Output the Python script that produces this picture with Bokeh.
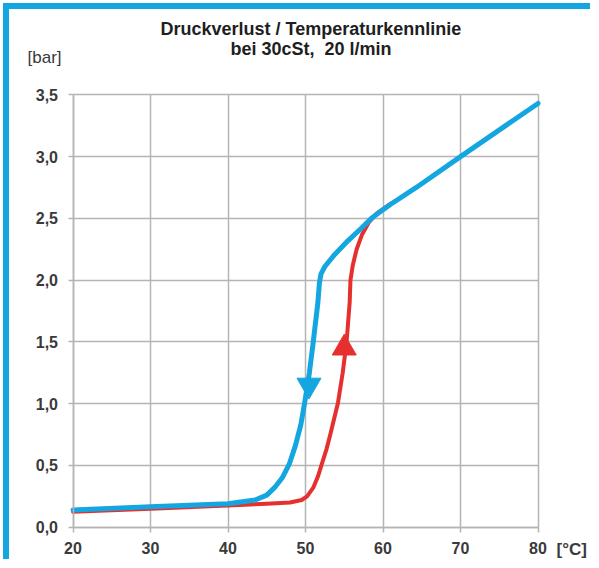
from bokeh.plotting import figure
from bokeh.models import Range1d, FixedTicker, Label
from bokeh.embed import file_html
from bokeh.resources import INLINE

# --- data -------------------------------------------------------------
# heating curve (red, arrow up)
temp_heat = [20, 30, 40, 45, 48, 49.5, 50.2, 51.0, 51.6, 52.1, 52.7, 53.2, 53.7,
             54.2, 54.8, 55.3, 55.7, 55.8, 56.1, 56.6, 57.3, 58.2, 59.2, 61.0]
dp_heat = [0.125, 0.15, 0.175, 0.19, 0.20, 0.22, 0.25, 0.32, 0.41, 0.51, 0.63, 0.75, 0.88,
           1.01, 1.25, 1.50, 1.82, 2.00, 2.12, 2.25, 2.37, 2.47, 2.54, 2.62]

# cooling curve (blue, arrow down)
temp_cool = [20, 30, 40, 43.5, 45, 46, 47, 47.9, 48.7, 49.4, 49.9, 50.5, 51.0, 51.6,
             51.8, 52.0, 52.5, 53.8, 55.5, 57.2, 58.5, 60.9, 64.3, 70, 80]
dp_cool = [0.14, 0.165, 0.19, 0.22, 0.26, 0.32, 0.40, 0.51, 0.66, 0.83, 1.01, 1.25, 1.50, 1.82,
           1.98, 2.05, 2.11, 2.21, 2.32, 2.42, 2.50, 2.61, 2.75, 3.00, 3.43]

# direction arrows (position on the curves)
arrow_heat_x = [55.0]
arrow_heat_y = [1.45]
arrow_cool_x = [50.45]
arrow_cool_y = [1.15]

x_ticks = [20, 30, 40, 50, 60, 70, 80]
x_tick_labels = ["20", "30", "40", "50", "60", "70", "80"]
y_ticks = [0.0, 0.5, 1.0, 1.5, 2.0, 2.5, 3.0, 3.5]
y_tick_labels = ["0,0", "0,5", "1,0", "1,5", "2,0", "2,5", "3,0", "3,5"]

title_line1 = "Druckverlust / Temperaturkennlinie"
title_line2 = "bei 30cSt,\u00a0 20 l/min"
y_unit = "[bar]"
x_unit = "[°C]"

BLUE = "#13a6e0"
RED = "#e6302d"
GRID = "#b4b4b4"
FONT = "Liberation Sans"
TXT = "#3a3a3a"

# --- figure -----------------------------------------------------------
# the frame covers the whole canvas; axes sit at x=20 / y=0 inside it
p = figure(width=587, height=556, output_backend="svg", toolbar_location=None,
           x_range=Range1d(11.806, 87.548), y_range=Range1d(-0.310, 4.1905),
           min_border=0)
p.styles = {"margin-left": "3px", "margin-top": "3px",
            "border-left": "6px solid " + BLUE, "border-top": "6px solid " + BLUE}

p.background_fill_color = "white"
p.border_fill_color = "white"
p.outline_line_color = None

xa = p.xaxis[0]
ya = p.yaxis[0]
xa.fixed_location = 0
xa.bounds = (20, 80)
ya.fixed_location = 20
ya.bounds = (0, 3.5)
for ax in (xa, ya):
    ax.axis_line_color = GRID
    ax.axis_line_width = 1.5
    ax.major_tick_line_color = GRID
    ax.major_tick_line_width = 1.5
    ax.major_tick_out = 5
    ax.major_tick_in = 0
    ax.minor_tick_line_color = None
    ax.major_label_text_font = FONT
    ax.major_label_text_font_style = "bold"
    ax.major_label_text_font_size = "16px"
    ax.major_label_text_color = TXT

xa.ticker = FixedTicker(ticks=x_ticks)
xa.major_label_overrides = dict(zip(x_ticks, x_tick_labels))
xa.major_label_standoff = 10
ya.ticker = FixedTicker(ticks=y_ticks)
ya.major_label_overrides = dict(zip(y_ticks, y_tick_labels))
ya.major_label_standoff = 10

p.xgrid.grid_line_color = GRID
p.xgrid.grid_line_width = 1.5
p.ygrid.grid_line_color = GRID
p.ygrid.grid_line_width = 1.5
try:
    p.xgrid.cross_bounds = (0, 3.5)
    p.ygrid.cross_bounds = (20, 80)
except Exception:
    # fall back: long inner ticks act as grid lines
    p.xgrid.visible = False
    p.ygrid.visible = False
    xa.major_tick_in = 432
    ya.major_tick_in = 465

p.line(temp_heat, dp_heat, line_color=RED, line_width=4, line_join="round", line_cap="round")
p.line(temp_cool, dp_cool, line_color=BLUE, line_width=5, line_join="round", line_cap="round")

p.scatter(arrow_heat_x, arrow_heat_y, marker="triangle", size=24,
          fill_color=RED, line_color=RED)
p.scatter(arrow_cool_x, arrow_cool_y, marker="inverted_triangle", size=24,
          fill_color=BLUE, line_color=BLUE)

# texts
p.add_layout(Label(x=50.7, y=4.029, text=title_line1, text_align="center", text_baseline="middle",
                   text_font=FONT, text_font_style="bold", text_font_size="18px",
                   text_color="#1e1e1e"))
p.add_layout(Label(x=50.7, y=3.874, text=title_line2, text_align="center", text_baseline="middle",
                   text_font=FONT, text_font_style="bold", text_font_size="18px",
                   text_color="#1e1e1e"))
p.add_layout(Label(x=14.13, y=3.798, text=y_unit, text_align="left", text_baseline="middle",
                   text_font=FONT, text_font_size="17px", text_color=TXT))
p.add_layout(Label(x=82.39, y=-0.180, text=x_unit, text_align="left", text_baseline="middle",
                   text_font=FONT, text_font_style="bold", text_font_size="17px",
                   text_color=TXT))

open("out.html", "w").write(file_html(p, INLINE))
